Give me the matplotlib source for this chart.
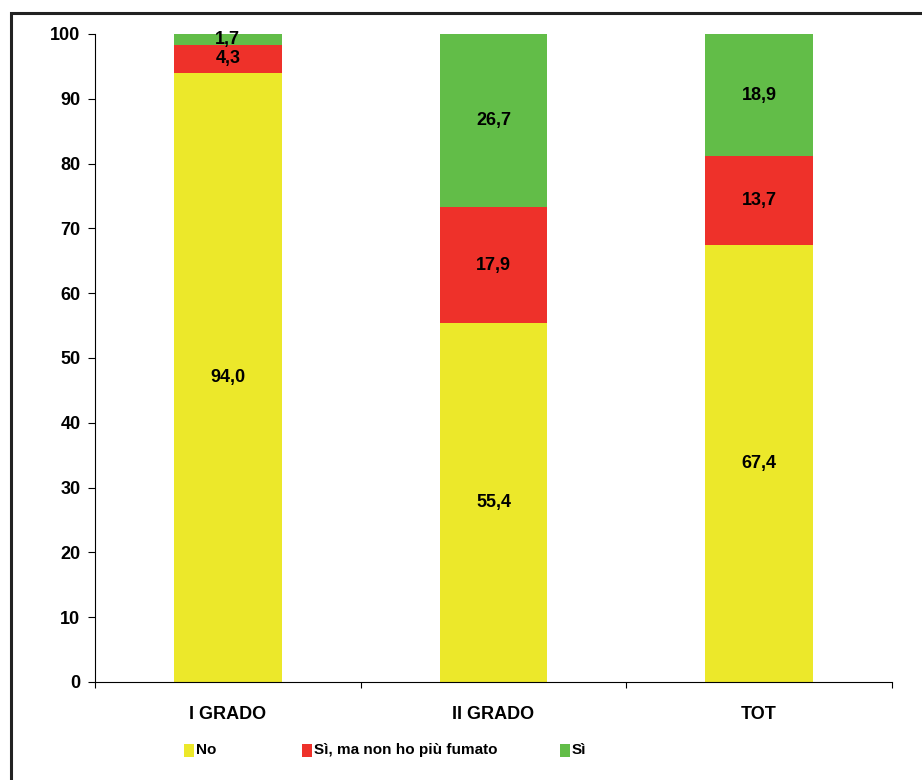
import matplotlib
matplotlib.use("Agg")
import matplotlib.pyplot as plt
from matplotlib.patches import Rectangle
from matplotlib import font_manager
import numpy as np

plt.rcParams['font.family'] = ['Liberation Sans', 'DejaVu Sans']
plt.rcParams['font.weight'] = 'bold'

categories = ["I GRADO", "II GRADO", "TOT"]
series_names = ["No", "Sì, ma non ho più fumato", "Sì"]
no_vals = [94.0, 55.4, 67.4]
former_vals = [4.3, 17.9, 13.7]
yes_vals = [1.7, 26.7, 18.9]
colors = ["#ECE82A", "#EE312A", "#62BD48"]

names = {f.name for f in font_manager.fontManager.ttflist}
narrow = 'Liberation Sans Narrow' in names

fig = plt.figure(figsize=(9.22, 7.8), dpi=100)
W, H = 922, 780
ax = fig.add_axes([95 / W, (H - 682) / H, (892 - 95) / W, (682 - 34) / H])

# outer frame (cut off on right/bottom)
fig.patches.append(Rectangle((11 / W, -0.05), 1.2, (H - 13) / H + 0.05,
                             transform=fig.transFigure, fill=False,
                             edgecolor="#222222", linewidth=2.2))

x = np.arange(len(categories))
width = 0.405
bottom = np.zeros(len(categories))
for vals, col, name in zip([no_vals, former_vals, yes_vals], colors, series_names):
    ax.bar(x, vals, width, bottom=bottom, color=col, label=name, edgecolor="none")
    for xi, v, bt in zip(x, vals, bottom):
        ax.text(xi, bt + v / 2, f"{v:.1f}".replace(".", ","), ha="center", va="center",
                fontsize=13, fontweight="bold", color="black")
    bottom += np.array(vals)

ax.set_xlim(-0.5, 2.5)
ax.set_ylim(0, 100)
ax.set_yticks(range(0, 101, 10))
ax.tick_params(axis='y', labelsize=13, length=5, width=0.8, pad=5.5, direction='out')
ax.set_xticks(x)
ax.set_xticklabels(categories, fontsize=13, fontweight="bold")
ax.tick_params(axis='x', length=0, pad=17)
for lab in ax.get_yticklabels():
    lab.set_fontweight("bold")
ax.set_xticks([-0.5, 0.5, 1.5, 2.5], minor=True)
ax.tick_params(axis='x', which='minor', length=4.3, width=0.8, direction='out')
ax.spines['top'].set_visible(False)
ax.spines['right'].set_visible(False)
ax.spines['left'].set_linewidth(0.8)
ax.spines['bottom'].set_linewidth(0.8)

# legend entries placed manually
leg_y = (H - 750) / H
leg_items = [(184, 0), (302, 1), (560, 2)]
leg_family = ['Liberation Sans Narrow'] if narrow else ['Liberation Sans']
leg_size = 13 if narrow else 11
for px, i in leg_items:
    fig.patches.append(Rectangle((px / W, leg_y - 7 / H), 10 / W, 13 / H,
                                 transform=fig.transFigure, facecolor=colors[i],
                                 edgecolor="none"))
    fig.text((px + 12) / W, leg_y, series_names[i], ha="left", va="center",
             fontsize=leg_size, fontweight="bold", family=leg_family)

fig.savefig("out.png", dpi=100)
